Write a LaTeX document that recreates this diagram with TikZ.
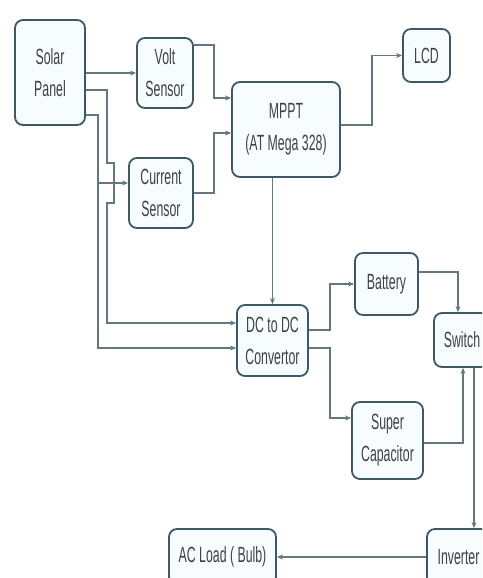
\documentclass[tikz,border=0pt]{standalone}
\usepackage{fontspec}
\setmainfont{Liberation Sans}[FakeStretch=0.56]
\usetikzlibrary{arrows.meta}
\definecolor{boxedge}{HTML}{3E5864}
\definecolor{boxfill}{HTML}{F7FCFE}
\definecolor{wire}{HTML}{62777F}
\tikzset{
  blk/.style={draw=boxedge, line width=1.8pt, fill=boxfill, rounded corners=8pt,
    align=center, inner sep=0pt, font=\fontsize{22}{32}\selectfont, text=black!75},
  wirearrow/.style={draw=wire, line width=1.4pt, -{Stealth[length=6pt,width=5pt]}},
  wireline/.style={draw=wire, line width=1.4pt}
}
\begin{document}
\begin{tikzpicture}[x=1pt,y=-1pt]
\useasboundingbox (0,0) rectangle (482,578);
\clip (0,0) rectangle (482,578);
\fill[white] (0,0) rectangle (482,578);

\node[blk, minimum width=70pt, minimum height=105pt] (sp) at (50,72.5) {Solar\\Panel};
\node[blk, minimum width=56pt, minimum height=70pt] (vs) at (165,73) {Volt\\Sensor};
\node[blk, minimum width=64pt, minimum height=70pt] (cs) at (161,193) {Current\\Sensor};
\node[blk, minimum width=108pt, minimum height=95pt] (mp) at (286,129.5) {MPPT\\(AT Mega 328)};
\node[blk, minimum width=47pt, minimum height=53pt] (lcd) at (426.5,55.5) {LCD};
\node[blk, minimum width=71pt, minimum height=71pt] (dc) at (272.5,340.5) {DC to DC\\Convertor};
\node[blk, minimum width=63pt, minimum height=62pt] (bat) at (386.5,284) {Battery};
\node[blk, minimum width=56pt, minimum height=54pt] (sw) at (462,340) {Switch};
\node[blk, minimum width=71pt, minimum height=77pt] (sc) at (387.5,440.5) {Super\\Capacitor};
\node[blk, minimum width=63pt, minimum height=56pt] (inv) at (458.5,557) {Inverter};
\node[blk, minimum width=107pt, minimum height=56pt] (ac) at (222.5,557) {AC Load ( Bulb)};

\coordinate (br) at (98,183);

% Solar panel connections
\draw[wirearrow] (vs.west -| sp.east) -- (vs.west);
\draw[wirearrow] ([yshift=-17.5pt]sp.east) -- (107,90) -- (107,163) -- (114,163) -- (114,203) -- (107,203) -- (107,323) -- ([yshift=17.5pt]dc.west);
\draw[wirearrow] ([yshift=-42.5pt]sp.east) -- (98,115) -- (98,348) -- ([yshift=-7.5pt]dc.west);
\draw[wirearrow] (br) -- (br -| cs.west);

% Sensors to MPPT
\draw[wirearrow] ([yshift=28pt]vs.east) -- ++(20,0) |- ([yshift=31.5pt]mp.west);
\draw[wirearrow] (cs.east) -- ++(20,0) |- ([yshift=-3.5pt]mp.west);

% MPPT outputs
\draw[wirearrow] ([yshift=4.5pt]mp.east) -- (372,125) |- (lcd.west);
\draw[wirearrow] (dc.north |- mp.south) -- (dc.north);

% DC-DC outputs
\draw[wirearrow] ([yshift=10.5pt]dc.east) -- ++(21,0) |- (bat.west);
\draw[wirearrow] ([yshift=-7.5pt]dc.east) -- ++(21,0) |- ([yshift=22.5pt]sc.west);

% Storage to switch
\draw[wirearrow] ([yshift=12pt]bat.east) -| ([xshift=-4pt]sw.north);
\draw[wirearrow] ([yshift=-2.5pt]sc.east) -| ([xshift=1pt]sw.south);

% Switch to inverter to load
\draw[wirearrow] ([xshift=12pt]sw.south) -- ([xshift=12pt]sw.south |- inv.north);
\draw[wirearrow] (inv.west) -- (ac.east);
\end{tikzpicture}
\end{document}
